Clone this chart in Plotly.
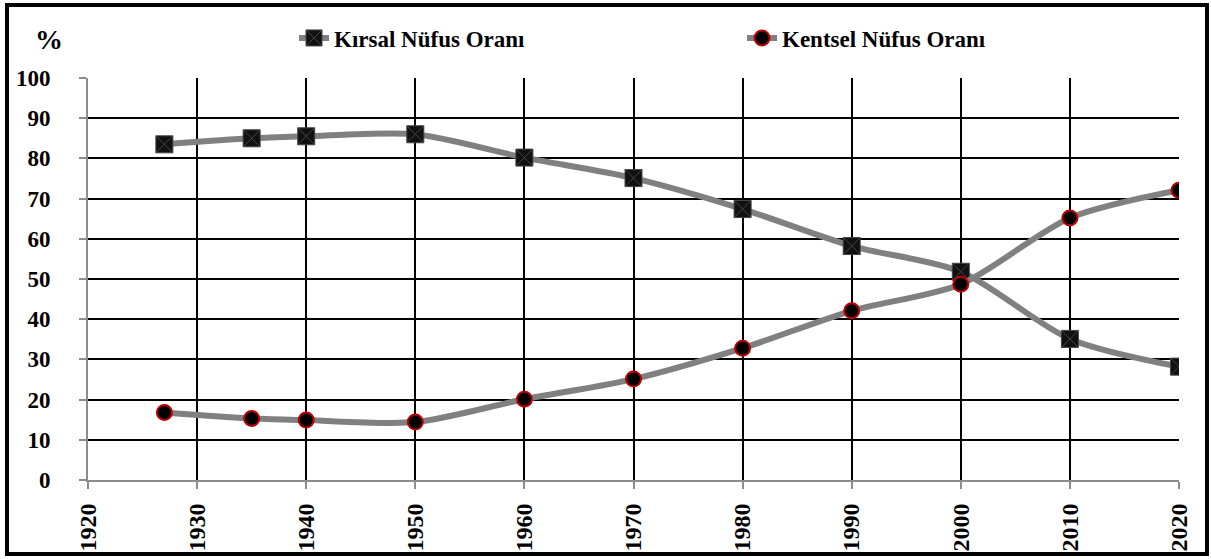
import plotly.graph_objects as go

years = [1927, 1935, 1940, 1950, 1960, 1970, 1980, 1990, 2000, 2010, 2020]
kirsal = [83.5, 85.0, 85.5, 86.0, 80.2, 75.1, 67.4, 58.2, 51.8, 35.1, 28.2]
kentsel = [16.8, 15.3, 14.9, 14.4, 20.1, 25.1, 32.8, 42.1, 48.7, 65.2, 72.1]
x_ticks = list(range(1920, 2021, 10))
y_ticks = list(range(0, 101, 10))

W, H = 1211, 559
ML, MR, MT, MB = 88, 32, 78, 79
PW, PH = W - ML - MR, H - MT - MB

def px(xp):
    return (xp - ML) / PW

def py(yp):
    return (H - MB - yp) / PH

FONT = "Liberation Serif, Times New Roman, serif"

fig = go.Figure()
fig.add_trace(go.Scatter(
    x=years, y=kirsal, name="<b>Kırsal Nüfus Oranı</b>", legend="legend",
    mode="lines+markers", line=dict(color="#808080", width=6, shape="spline", smoothing=0.8),
    marker=dict(symbol="square-x", size=17, color="#111111", line=dict(color="#444444", width=1)),
))
fig.add_trace(go.Scatter(
    x=years, y=kentsel, name="<b>Kentsel Nüfus Oranı</b>", legend="legend2",
    mode="lines+markers", line=dict(color="#808080", width=6, shape="spline", smoothing=0.8),
    marker=dict(symbol="circle", size=15, color="#000000", line=dict(color="#c00000", width=2)),
))

leg_common = dict(orientation="h", yanchor="middle", xanchor="left",
                  font=dict(family=FONT, size=23, color="black"),
                  bgcolor="rgba(0,0,0,0)")

fig.update_layout(
    width=W, height=H,
    margin=dict(l=ML, r=MR, t=MT, b=MB, autoexpand=False),
    paper_bgcolor="white", plot_bgcolor="white",
    font=dict(family=FONT, color="black", size=20),
    showlegend=True,
    legend=dict(x=px(294), y=py(38), **leg_common),
    legend2=dict(x=px(742), y=py(38), **leg_common),
    xaxis=dict(range=[1920, 2020], tickvals=x_ticks, ticktext=[f"<b>{v}</b>" for v in x_ticks],
               tickangle=-90, showgrid=True, gridcolor="black", gridwidth=2,
               showline=True, linecolor="#8c8c8c", linewidth=2,
               ticks="outside", tickcolor="#8c8c8c", ticklen=7, tickwidth=2,
               ticklabelstandoff=5, automargin=False,
               zeroline=False, tickfont=dict(family=FONT, size=24, color="black")),
    yaxis=dict(range=[0, 100], tickvals=y_ticks, ticktext=[f"<b>{v}</b>" for v in y_ticks],
               showgrid=True, gridcolor="black", gridwidth=2,
               showline=True, linecolor="#8c8c8c", linewidth=2,
               ticks="outside", tickcolor="#8c8c8c", ticklen=7, tickwidth=2,
               ticklabelstandoff=24, automargin=False,
               zeroline=False, tickfont=dict(family=FONT, size=23, color="black")),
    annotations=[dict(text="<b>%</b>", xref="paper", yref="paper", x=px(49), y=py(39),
                      showarrow=False, font=dict(family=FONT, size=28, color="black"),
                      xanchor="center", yanchor="middle")],
    shapes=[dict(type="rect", xref="paper", yref="paper",
                 x0=px(7), x1=px(1207), y0=py(554), y1=py(5),
                 line=dict(color="black", width=4), fillcolor="rgba(0,0,0,0)", layer="above")],
)

fig.write_html("out.html", config={"displayModeBar": False},
               post_script="document.body.style.margin='0';document.body.style.overflow='hidden';")
